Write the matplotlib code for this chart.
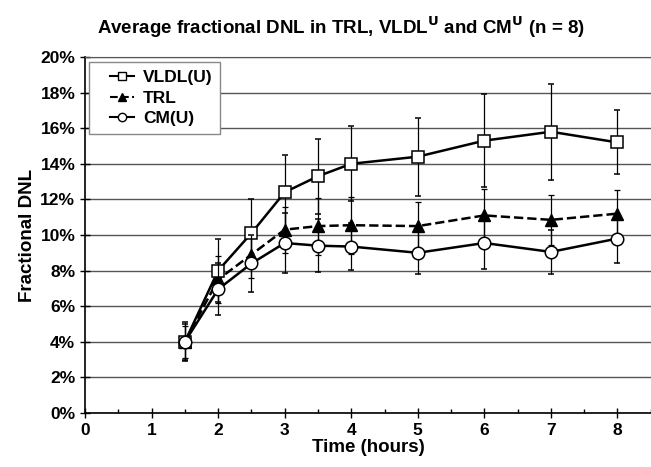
import matplotlib.pyplot as plt
from matplotlib.lines import Line2D
from matplotlib.legend_handler import HandlerLine2D
from matplotlib.ticker import MultipleLocator, PercentFormatter

plt.rcParams['font.family'] = ['Liberation Sans', 'DejaVu Sans']
plt.rcParams['font.weight'] = 'bold'

# time points (hours)
time = [1.5, 2, 2.5, 3, 3.5, 4, 5, 6, 7, 8]

# fractional DNL, % (mean and error)
vldl = [4.0, 8.0, 10.1, 12.4, 13.3, 14.0, 14.4, 15.3, 15.8, 15.2]
vldl_err = [1.1, 1.75, 1.9, 2.1, 2.1, 2.1, 2.2, 2.6, 2.7, 1.8]
trl = [4.0, 7.5, 8.9, 10.3, 10.5, 10.55, 10.5, 11.1, 10.85, 11.2]
trl_err = [0.9, 1.3, 1.3, 1.3, 1.6, 1.6, 1.35, 1.5, 1.4, 1.3]
cm = [4.0, 6.95, 8.4, 9.55, 9.4, 9.35, 9.0, 9.55, 9.05, 9.8]
cm_err = [1.0, 1.45, 1.6, 1.7, 1.5, 1.3, 1.2, 1.45, 1.25, 1.4]

fig = plt.figure(figsize=(6.51, 4.67), dpi=100)
ax = fig.add_axes([0.1306, 0.1156, 0.869, 0.7624])

# grid lines first, behind everything
ax.yaxis.grid(True, color='#555555', linewidth=1)
ax.set_axisbelow(True)

eb = dict(ecolor='black', elinewidth=0.9, capsize=2, capthick=0.9)
ax.errorbar(time, vldl, yerr=vldl_err, color='black', lw=1.8, marker='s',
            ms=8, mfc='white', mec='black', mew=1.1, zorder=4, **eb)
ax.errorbar(time, trl, yerr=trl_err, color='black', lw=1.8, ls='--', marker='^',
            ms=8, mfc='black', mec='black', zorder=3, **eb)
ax.errorbar(time, cm, yerr=cm_err, color='black', lw=1.8, marker='o',
            ms=9, mfc='white', mec='black', mew=1.1, zorder=5, **eb)

ax.set_xlim(0, 8.5)
ax.set_ylim(0, 20)
ax.xaxis.set_major_locator(MultipleLocator(1))
ax.xaxis.set_minor_locator(MultipleLocator(0.5))
ax.yaxis.set_major_locator(MultipleLocator(2))
ax.yaxis.set_major_formatter(PercentFormatter(decimals=0))

ax.spines['right'].set_visible(False)
ax.spines['top'].set_color('#555555')
ax.spines['left'].set_linewidth(1.2)
ax.spines['bottom'].set_linewidth(1.2)

ax.tick_params(axis='both', which='major', direction='inout', length=7, width=1,
               labelsize=12.5)
ax.tick_params(axis='x', which='minor', direction='in', length=3, width=1)

ax.set_xlabel('Time (hours)', fontsize=13.5, fontweight='bold', labelpad=1)
ax.set_ylabel('Fractional DNL', fontsize=13.5, fontweight='bold', labelpad=3)

fig.text(0.524, 0.942, r'Average fractional DNL in TRL, VLDL$^{\mathbf{U}}$ and CM$^{\mathbf{U}}$ (n = 8)',
         ha='center', va='center', fontsize=13.5, fontweight='bold')

# legend: line + marker only
handles = [
    Line2D([], [], color='black', lw=1.5, marker='s', ms=6, mfc='white', mec='black'),
    Line2D([], [], color='black', lw=1.5, ls='--', marker='^', ms=6, mfc='black'),
    Line2D([], [], color='black', lw=1.5, marker='o', ms=6, mfc='white', mec='black'),
]
labels = ['VLDL(U)', 'TRL', 'CM(U)']
leg = ax.legend(handles, labels, loc='upper left', bbox_to_anchor=(0.007, 0.986),
                borderaxespad=0, fancybox=False, edgecolor='#888888', framealpha=1,
                handlelength=2.15, handletextpad=0.5, borderpad=0.45,
                prop={'weight': 'bold', 'size': 12.5}, labelspacing=0.32,
                handler_map={Line2D: HandlerLine2D(xpad=0.75)})
leg.get_frame().set_linewidth(1)

fig.savefig('out.png', dpi=100)
